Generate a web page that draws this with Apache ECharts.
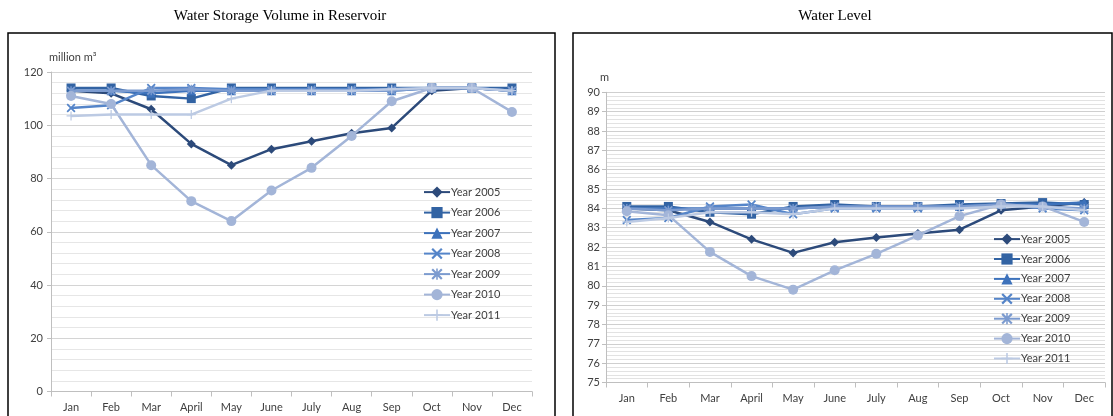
<!DOCTYPE html>
<html><head><meta charset="utf-8">
<script src="https://cdn.jsdelivr.net/npm/echarts@6/dist/echarts.min.js"></script>
<style>html,body{margin:0;padding:0;background:#fff}#c{width:1113px;height:416px}</style>
</head><body><div id="c"></div>
<script>
const months = ['Jan','Feb','Mar','April','May','June','July','Aug','Sep','Oct','Nov','Dec'];
const seriesNames = ['Year 2005','Year 2006','Year 2007','Year 2008','Year 2009','Year 2010','Year 2011'];

// Water storage volume (million m3)
const vol2005 = [113, 112, 106, 93, 85, 91, 94, 97, 99, 113, 114, 113];
const vol2006 = [114, 114, 111, 110, 114, 114, 114, 114, 114, 114, 114, 114];
const vol2007 = [113, 113, 112, 113, 113, 113, 113, 113, 113, 114, 114, 113];
const vol2008 = [106.5, 107.5, 114, 114, 113.5, 113.5, 113.5, 113.5, 113.5, 114, 114, 113];
const vol2009 = [113, 113, 113, 113.5, 113, 113, 113, 113, 113, 114, 114, 113];
const vol2010 = [111, 108, 85, 71.5, 64, 75.5, 84, 96, 109, 114, 114, 105];
const vol2011 = [103.5, 104, 104, 104, 110, 113, 113, 113, 113.5, 114, 114, 113];

// Water level (m)
const lvl2005 = [84.0, 83.9, 83.3, 82.4, 81.7, 82.25, 82.5, 82.7, 82.9, 83.9, 84.1, 84.3];
const lvl2006 = [84.1, 84.1, 83.8, 83.7, 84.1, 84.2, 84.1, 84.1, 84.2, 84.25, 84.3, 84.2];
const lvl2007 = [84.0, 84.0, 84.0, 84.0, 84.0, 84.1, 84.1, 84.1, 84.1, 84.2, 84.2, 84.3];
const lvl2008 = [83.4, 83.5, 84.1, 84.2, 83.7, 84.0, 84.0, 84.0, 84.1, 84.2, 84.0, 83.9];
const lvl2009 = [84.0, 83.9, 84.0, 84.0, 84.0, 84.1, 84.1, 84.1, 84.1, 84.2, 84.1, 84.0];
const lvl2010 = [83.85, 83.65, 81.75, 80.5, 79.8, 80.8, 81.65, 82.6, 83.6, 84.2, 84.1, 83.3];
const lvl2011 = [83.3, 83.5, 83.8, 83.8, 83.7, 84.0, 84.0, 84.0, 84.0, 84.1, 84.1, 83.9];

const volData = [vol2005, vol2006, vol2007, vol2008, vol2009, vol2010, vol2011];
const lvlData = [lvl2005, lvl2006, lvl2007, lvl2008, lvl2009, lvl2010, lvl2011];

const colors = ['#2c4a7a', '#3263a3', '#3d72bb', '#5585c9', '#7c9bcf', '#a3b5d8', '#bccae3'];
const X_PATH = 'path://M0,1.4 L1.4,0 L5,3.6 L8.6,0 L10,1.4 L6.4,5 L10,8.6 L8.6,10 L5,6.4 L1.4,10 L0,8.6 L3.6,5 Z';
const STAR_PATH = 'path://M0,1.4 L1.4,0 L4.3,2.9 L4.3,0 L5.7,0 L5.7,2.9 L8.6,0 L10,1.4 L6.4,5 L10,8.6 L8.6,10 L5.7,7.1 L5.7,10 L4.3,10 L4.3,7.1 L1.4,10 L0,8.6 L3.6,5 Z';
const PLUS_PATH = 'path://M4.3,0 H5.7 V4.3 H10 V5.7 H5.7 V10 H4.3 V5.7 H0 V4.3 H4.3 Z';
const symbols = ['diamond', 'rect', 'triangle', X_PATH, STAR_PATH, 'circle', PLUS_PATH];
const symSizes = [9, 9, 9, 9, 9, 10, 9];

const font = 'Lato, "Open Sans", sans-serif';
const labelColor = '#404040';

function makeSeries(data, idx) {
  return data.map((arr, i) => ({
    name: seriesNames[i],
    type: 'line',
    xAxisIndex: idx, yAxisIndex: idx,
    data: arr,
    symbol: symbols[i],
    symbolSize: symSizes[i],
    showSymbol: true,
    lineStyle: { color: colors[i], width: 2.5 },
    itemStyle: { color: colors[i] },
    z: 2 + i,
    animation: false
  }));
}

function xAxis(idx) {
  return {
    type: 'category', gridIndex: idx, data: months, boundaryGap: true,
    axisLine: { lineStyle: { color: '#bfbfbf', width: 1 } },
    axisTick: { show: true, length: 5, lineStyle: { color: '#bfbfbf' } },
    axisLabel: { color: labelColor, fontSize: 11, fontFamily: font, margin: 10 },
    splitLine: { show: false }
  };
}

const chart = echarts.init(document.getElementById('c'), null, { renderer: 'canvas' });
chart.setOption({
  animation: false,
  color: colors,
  grid: [
    { left: 51, right: 581, top: 72, bottom: 24.5 },
    { left: 606, right: 8, top: 92.3, bottom: 33.5 }
  ],
  xAxis: [xAxis(0), xAxis(1)],
  yAxis: [
    {
      type: 'value', gridIndex: 0, min: 0, max: 120, interval: 20,
      axisLine: { show: true, lineStyle: { color: '#bfbfbf' } },
      axisTick: { show: true, length: 4, lineStyle: { color: '#bfbfbf' } },
      axisLabel: { color: labelColor, fontSize: 11, fontFamily: font, margin: 8 },
      splitLine: { show: true, lineStyle: { color: '#d4d4d4', width: 1 } },
      minorTick: { show: false, splitNumber: 5 },
      minorSplitLine: { show: true, lineStyle: { color: '#e6e6e6', width: 1 } }
    },
    {
      type: 'value', gridIndex: 1, min: 75, max: 90, interval: 1,
      axisLine: { show: true, lineStyle: { color: '#bfbfbf' } },
      axisTick: { show: true, length: 4, lineStyle: { color: '#bfbfbf' } },
      axisLabel: { color: labelColor, fontSize: 11, fontFamily: font, margin: 6 },
      splitLine: { show: true, lineStyle: { color: '#cfcfcf', width: 1 } },
      minorTick: { show: false, splitNumber: 5 },
      minorSplitLine: { show: true, lineStyle: { color: '#e2e2e2', width: 1 } }
    }
  ],
  legend: [
    {
      data: seriesNames, orient: 'vertical', left: 418, top: 181.5,
      itemWidth: 26, itemHeight: 14, itemGap: 9.3,
      textStyle: { color: labelColor, fontSize: 11, fontFamily: font, padding: [0, 0, 0, -4] },
      selectedMode: false
    },
    {
      data: seriesNames, orient: 'vertical', left: 988, top: 228.5,
      itemWidth: 26, itemHeight: 14, itemGap: 8.7,
      textStyle: { color: labelColor, fontSize: 11, fontFamily: font, padding: [0, 0, 0, -4] },
      selectedMode: false
    }
  ],
  graphic: [
    { type: 'rect', shape: { x: 8, y: 33, width: 547, height: 400 }, style: { fill: 'none', stroke: '#000', lineWidth: 1.5 }, z: 100 },
    { type: 'rect', shape: { x: 573, y: 33, width: 539, height: 400 }, style: { fill: 'none', stroke: '#000', lineWidth: 1.5 }, z: 100 },
    { type: 'text', x: 280, y: 16, style: { text: 'Water Storage Volume in Reservoir', font: '15px "Liberation Serif", "Times New Roman", serif', fill: '#000', textAlign: 'center', textVerticalAlign: 'middle' } },
    { type: 'text', x: 835, y: 16, style: { text: 'Water Level', font: '15px "Liberation Serif", "Times New Roman", serif', fill: '#000', textAlign: 'center', textVerticalAlign: 'middle' } },
    { type: 'text', x: 49, y: 57, style: { text: 'million m³', font: '11px ' + font, fill: labelColor, textAlign: 'left', textVerticalAlign: 'middle' } },
    { type: 'text', x: 600, y: 77, style: { text: 'm', font: '11px ' + font, fill: labelColor, textAlign: 'left', textVerticalAlign: 'middle' } }
  ],
  series: [...makeSeries(volData, 0), ...makeSeries(lvlData, 1)]
});
</script>
</body></html>
